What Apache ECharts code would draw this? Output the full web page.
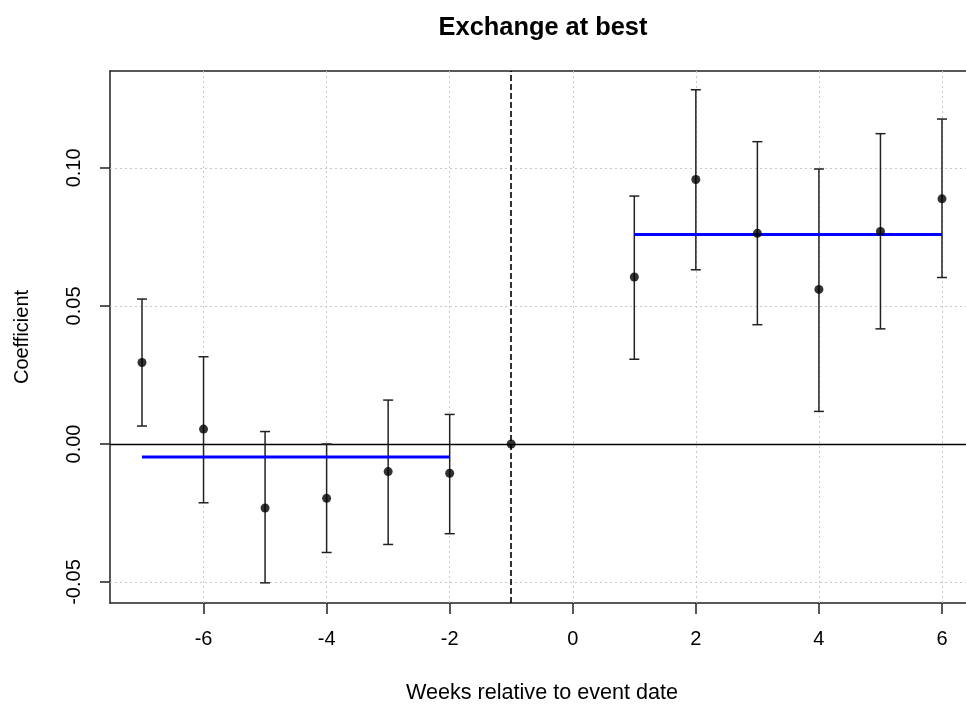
<!DOCTYPE html>
<html>
<head>
<meta charset="utf-8">
<script src="https://cdn.jsdelivr.net/npm/echarts@6/dist/echarts.min.js"></script>
<style>
html,body{margin:0;padding:0;background:#fff;}
#chart{width:966px;height:711px;}
</style>
</head>
<body>
<div id="chart"></div>
<script>
// ---- data ----
const weeks = [-7, -6, -5, -4, -3, -2, -1, 1, 2, 3, 4, 5, 6];
const coef  = [0.0295, 0.0054, -0.0232, -0.0197, -0.0100, -0.0106, 0.0, 0.0605, 0.0958, 0.0763, 0.0560, 0.0770, 0.0888];
const lower = [0.0065, -0.0213, -0.0503, -0.0393, -0.0364, -0.0325, null, 0.0307, 0.0631, 0.0432, 0.0118, 0.0417, 0.0603];
const upper = [0.0525, 0.0316, 0.0045, 0.0000, 0.0159, 0.0107, null, 0.0898, 0.1283, 0.1095, 0.0996, 0.1124, 0.1177];
const preWeeks = [-7, -2];
const preMean = -0.0047;
const postWeeks = [1, 6];
const postMean = 0.0759;
const eventLine = -1;
const xTicks = [-6, -4, -2, 0, 2, 4, 6];
const yTicks = [-0.05, 0.00, 0.05, 0.10];
const xRange = [-7.52, 6.39];
const yRange = [-0.0576, 0.1351];

const FONT = "'Liberation Sans', Arial, sans-serif";

const chart = echarts.init(document.getElementById('chart'), null, {renderer: 'canvas'});

const pointData = weeks.map((w, i) => [w, coef[i]]);
const barData = weeks.map((w, i) => [w, lower[i], upper[i]]).filter(d => d[1] !== null);
const gridStyle = {color: '#c8c8c8', type: [2, 3], width: 1};
const boxLine = {show: true, onZero: false, lineStyle: {color: '#222', width: 1.5}};

const option = {
  animation: false,
  backgroundColor: '#ffffff',
  title: {
    text: 'Exchange at best',
    left: 538,
    top: 10,
    textAlign: 'center',
    textStyle: {fontFamily: FONT, fontSize: 25.4, fontWeight: 'bold', color: '#000'}
  },
  grid: {
    left: 110, top: 71, width: 856, height: 532,
    show: false
  },
  xAxis: [{
    type: 'value',
    position: 'bottom',
    min: xRange[0], max: xRange[1],
    name: 'Weeks relative to event date',
    nameLocation: 'middle',
    nameGap: 79,
    nameTextStyle: {fontFamily: FONT, fontSize: 21.6, color: '#000', verticalAlign: 'top', padding: [0, 0, 0, 8]},
    axisLine: boxLine,
    axisTick: {show: true, inside: false, length: 11, customValues: xTicks, lineStyle: {color: '#222', width: 1.5}},
    axisLabel: {customValues: xTicks, margin: 26, fontFamily: FONT, fontSize: 20, color: '#000',
      formatter: v => String(v)},
    splitLine: {show: false}
  }, {
    type: 'value',
    position: 'top',
    min: xRange[0], max: xRange[1],
    axisLine: boxLine,
    axisTick: {show: false},
    axisLabel: {show: false},
    splitLine: {show: false}
  }],
  yAxis: {
    type: 'value',
    position: 'left',
    min: yRange[0], max: yRange[1],
    name: 'Coefficient',
    nameLocation: 'middle',
    nameGap: 78,
    nameRotate: 90,
    nameTextStyle: {fontFamily: FONT, fontSize: 20, color: '#000'},
    axisLine: boxLine,
    axisTick: {show: true, inside: false, length: 10, customValues: yTicks, lineStyle: {color: '#222', width: 1.5}},
    axisLabel: {customValues: yTicks, rotate: 90, margin: 26, fontFamily: FONT, fontSize: 20, color: '#000',
      formatter: v => v.toFixed(2)},
    splitLine: {show: false}
  },
  series: [
    {
      // dotted grid lines at tick positions
      type: 'line',
      data: [],
      silent: true,
      z: 1,
      markLine: {
        silent: true,
        z: 1,
        symbol: 'none',
        label: {show: false},
        animation: false,
        data: [
          ...xTicks.map(v => ({xAxis: v, lineStyle: gridStyle})),
          ...yTicks.map(v => ({yAxis: v, lineStyle: gridStyle}))
        ]
      }
    },
    {
      // zero line and event-date line
      type: 'line',
      data: [],
      silent: true,
      z: 2,
      markLine: {
        silent: true,
        z: 2,
        symbol: 'none',
        label: {show: false},
        animation: false,
        data: [
          {yAxis: 0, lineStyle: {color: '#000', type: 'solid', width: 1.3}},
          {xAxis: eventLine, lineStyle: {color: '#000', type: [6, 3], width: 1.6}}
        ]
      }
    },
    {
      type: 'custom',
      silent: true,
      data: barData,
      encode: {x: 0, y: [1, 2]},
      renderItem: function (params, api) {
        const x = api.value(0);
        const lo = api.coord([x, api.value(1)]);
        const hi = api.coord([x, api.value(2)]);
        const cap = 5;
        const style = {stroke: '#222', lineWidth: 1.5, fill: null};
        return {
          type: 'group',
          children: [
            {type: 'line', shape: {x1: lo[0], y1: lo[1], x2: hi[0], y2: hi[1]}, style: style},
            {type: 'line', shape: {x1: lo[0] - cap, y1: lo[1], x2: lo[0] + cap, y2: lo[1]}, style: style},
            {type: 'line', shape: {x1: hi[0] - cap, y1: hi[1], x2: hi[0] + cap, y2: hi[1]}, style: style}
          ]
        };
      },
      z: 6
    },
    {
      type: 'line',
      data: preWeeks.map(w => [w, preMean]),
      showSymbol: false,
      lineStyle: {color: '#0000ff', width: 3},
      z: 7
    },
    {
      type: 'line',
      data: postWeeks.map(w => [w, postMean]),
      showSymbol: false,
      lineStyle: {color: '#0000ff', width: 3},
      z: 7
    },
    {
      type: 'scatter',
      data: pointData,
      symbol: 'circle',
      symbolSize: 9,
      itemStyle: {color: '#000'},
      z: 8
    }
  ]
};
chart.setOption(option);
</script>
</body>
</html>
